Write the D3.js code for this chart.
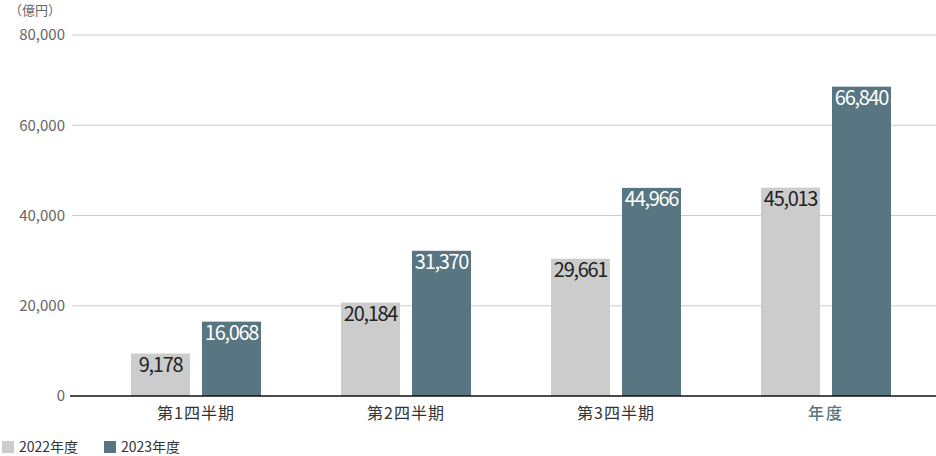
<!DOCTYPE html>
<html lang="ja">
<head>
<meta charset="UTF-8">
<title>四半期別 推移</title>
<script src="https://d3js.org/d3.v7.min.js"></script>
<style>
  body { margin: 0; background: #fff; }
  svg { display: block; font-family: "Noto Sans CJK JP", "Noto Sans", sans-serif; }
  .grid line { stroke: #cccccc; stroke-width: 1; }
  .tick-label { fill: #666; font-size: 15px; }
  .cat-label { font-size: 16px; }
  .value { font-size: 20px; letter-spacing: -1.3px; }
  .legend text { fill: #333; font-size: 14px; }
</style>
</head>
<body>
<svg width="936" height="456"></svg>
<script>
  // data
  const categories = ["第1四半期", "第2四半期", "第3四半期", "年度"];
  const seriesNames = ["2022年度", "2023年度"];
  const values2022 = [9178, 20184, 29661, 45013];
  const values2023 = [16068, 31370, 44966, 66840];
  const yTicks = [0, 20000, 40000, 60000, 80000];

  const colors = ["#cccccc", "#587682"];
  const labelColors = ["#222", "#fff"];

  const svg = d3.select("svg");

  const x = d3.scaleBand().domain(categories).range([91, 931]).padding(0);
  const xInner = d3.scaleBand().domain(seriesNames)
      .range([40, 170]).paddingInner(0.169).paddingOuter(0);

  // axis scale and the (slightly taller) scale the bars were drawn with
  const y = d3.scaleLinear().domain([0, 80000]).range([396, 35]);
  const yBar = d3.scaleLinear().domain([0, 78000]).range([396, 35]);

  const fmt = d3.format(",");

  // gridlines
  svg.append("g").attr("class", "grid")
    .selectAll("line")
    .data(yTicks.filter(d => d > 0))
    .join("line")
      .attr("x1", 72).attr("x2", 936)
      .attr("y1", d => y(d)).attr("y2", d => y(d));

  // y tick labels
  svg.append("g")
    .selectAll("text")
    .data(yTicks)
    .join("text")
      .attr("class", "tick-label")
      .attr("x", 65)
      .attr("y", d => y(d))
      .attr("dy", "0.36em")
      .attr("text-anchor", "end")
      .text(d => fmt(d));

  svg.append("text")
    .attr("x", 9).attr("y", 15)
    .attr("fill", "#666")
    .style("font-size", "13px")
    .text("（億円）");

  // bars
  const rows = categories.map((c, i) => ({
    cat: c,
    vals: [values2022[i], values2023[i]]
  }));

  const group = svg.append("g")
    .selectAll("g")
    .data(rows)
    .join("g")
      .attr("transform", d => `translate(${x(d.cat)},0)`);

  const cell = group.selectAll("g")
    .data(d => d.vals.map((v, k) => ({ name: seriesNames[k], v, k })))
    .join("g");

  cell.append("rect")
    .attr("x", d => xInner(d.name))
    .attr("width", xInner.bandwidth())
    .attr("y", d => yBar(d.v))
    .attr("height", d => yBar(0) - yBar(d.v))
    .attr("fill", d => colors[d.k]);

  cell.append("text")
    .attr("class", "value")
    .attr("x", d => xInner(d.name) + xInner.bandwidth() / 2)
    .attr("y", d => yBar(d.v) + 18)
    .attr("text-anchor", "middle")
    .attr("fill", d => labelColors[d.k])
    .text(d => fmt(d.v));

  // baseline
  svg.append("line")
    .attr("x1", 70).attr("x2", 936)
    .attr("y1", y(0)).attr("y2", y(0))
    .attr("stroke", "#111").attr("stroke-width", 1.5);

  // category labels (the full-year one is highlighted)
  svg.append("g")
    .selectAll("text")
    .data(categories)
    .join("text")
      .attr("class", "cat-label")
      .attr("x", d => x(d) + x.bandwidth() / 2)
      .attr("y", 419)
      .attr("text-anchor", "middle")
      .style("fill", (d, i) => i === 3 ? "#587682" : "#333")
      .style("font-weight", (d, i) => i === 3 ? "500" : "normal")
      .style("letter-spacing", (d, i) => i === 3 ? "2px" : "1px")
      .text(d => d);

  // legend
  const legendX = [2, 104];
  const legend = svg.append("g").attr("class", "legend")
    .selectAll("g")
    .data(seriesNames)
    .join("g")
      .attr("transform", (d, i) => `translate(${legendX[i]},441)`);

  legend.append("rect")
    .attr("width", 12).attr("height", 12)
    .attr("fill", (d, i) => colors[i]);

  legend.append("text")
    .attr("x", 17).attr("y", 11)
    .text(d => d);
</script>
</body>
</html>
